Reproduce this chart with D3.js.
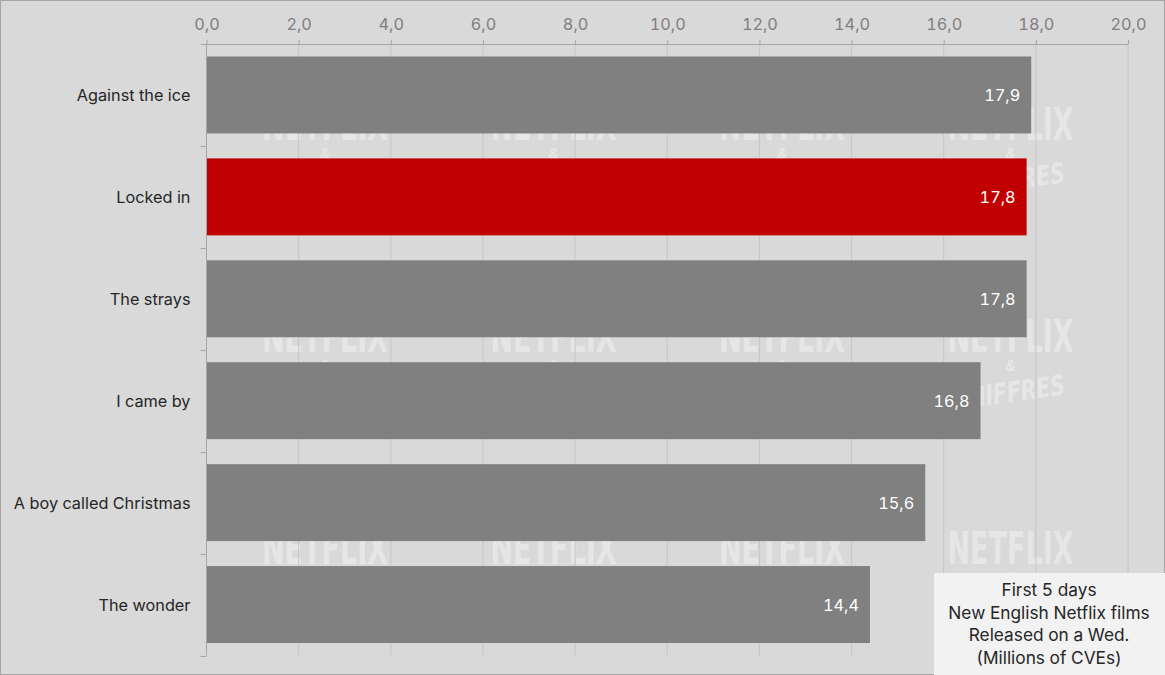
<!DOCTYPE html>
<html>
<head>
<meta charset="utf-8">
<script src="https://cdn.jsdelivr.net/npm/d3@7"></script>
<style>
  html, body { margin: 0; padding: 0; background: #d9d9d9; }
  svg { display: block; font-family: Inter, "Open Sans", Roboto, sans-serif; font-variant-numeric: tabular-nums; }
</style>
</head>
<body>
<script>
const categories = ["Against the ice", "Locked in", "The strays", "I came by", "A boy called Christmas", "The wonder"];
const values = [17.9, 17.8, 17.8, 16.8, 15.6, 14.4];
const highlight = ["Locked in"];
const xTicks = [0, 2, 4, 6, 8, 10, 12, 14, 16, 18, 20];
const legendLines = ["First 5 days", "New English Netflix films", "Released on a Wed.", "(Millions of CVEs)"];
const watermarkCols = [0, 1, 2, 3];
const watermarkRows = [0, 1, 2];

const W = 1165, H = 675;
const margin = { top: 44, left: 206.5, right: 37, bottom: 19.5 };

const svg = d3.select("body").append("svg").attr("width", W).attr("height", H);
svg.append("rect").attr("x", 0.5).attr("y", 0.5).attr("width", W - 1).attr("height", H - 1)
  .attr("fill", "#d9d9d9").attr("stroke", "#a5a5a5");

const x = d3.scaleLinear().domain([0, 20]).range([margin.left, W - margin.right]);
const y = d3.scaleBand().domain(categories).range([margin.top, H - margin.bottom])
  .paddingInner(0.245).paddingOuter(0.1225);

// watermark
const wm = svg.append("g").attr("fill", "#e6e6e6");
watermarkRows.forEach(r => {
  watermarkCols.forEach(c => {
    const gx = 325 + c * 228.5, gy = 140 + r * 212;
    wm.append("text").attr("x", gx).attr("y", gy).attr("text-anchor", "middle")
      .attr("font-family", "'Liberation Sans Narrow', 'DejaVu Sans Condensed', 'Liberation Sans', sans-serif")
      .attr("font-weight", "bold").attr("font-size", 45)
      .attr("textLength", 126).attr("lengthAdjust", "spacingAndGlyphs").text("NETFLIX");
    wm.append("text").attr("x", gx).attr("y", gy + 19).attr("text-anchor", "middle")
      .attr("font-style", "italic").attr("font-weight", "bold").attr("font-size", 15).text("&");
    wm.append("text").attr("transform", `translate(${gx},${gy + 50}) rotate(-8)`).attr("text-anchor", "middle")
      .attr("font-family", "'Liberation Sans Narrow', 'DejaVu Sans Condensed', 'Liberation Sans', sans-serif")
      .attr("font-style", "italic").attr("font-weight", "bold").attr("font-size", 28)
      .attr("textLength", 112).attr("lengthAdjust", "spacingAndGlyphs").text("CHIFFRES");
  });
});

// gridlines
svg.append("g").selectAll("line").data(xTicks.slice(1)).join("line")
  .attr("x1", d => x(d)).attr("x2", d => x(d))
  .attr("y1", margin.top).attr("y2", H - margin.bottom)
  .attr("stroke", "#c6c6c6").attr("stroke-width", 1);

// top axis
const xAxis = svg.append("g").attr("transform", `translate(0,${margin.top})`)
  .call(d3.axisTop(x).tickValues(xTicks).tickSize(4).tickPadding(10)
    .tickFormat(d => d3.format(".1f")(d).replace(".", ",")));
xAxis.select(".domain").attr("stroke", "#a6a6a6").attr("d", `M${margin.left - 6},0.5H${x(20)}`);
xAxis.selectAll(".tick line").attr("stroke", "#a6a6a6");
xAxis.selectAll(".tick text").attr("fill", "#7f7f7f").attr("font-size", 16.3)
  .attr("font-family", "Inter, sans-serif");

// bars
svg.append("g").selectAll("rect").data(categories).join("rect")
  .attr("x", x(0)).attr("y", d => y(d))
  .attr("width", (d, i) => x(values[i]) - x(0))
  .attr("height", y.bandwidth())
  .attr("fill", d => highlight.includes(d) ? "#c00000" : "#808080");

// left axis
const step = y.step();
const boundaries = categories.map((d, i) => margin.top + (i + 1) * step);
const yAxisG = svg.append("g");
yAxisG.append("line").attr("x1", x(0)).attr("x2", x(0)).attr("y1", margin.top).attr("y2", H - margin.bottom)
  .attr("stroke", "#a6a6a6");
yAxisG.selectAll("line.tk").data(boundaries).join("line").attr("class", "tk")
  .attr("x1", x(0) - 6).attr("x2", x(0)).attr("y1", d => Math.round(d) + 0.5).attr("y2", d => Math.round(d) + 0.5)
  .attr("stroke", "#a6a6a6");
yAxisG.selectAll("text").data(categories).join("text")
  .attr("x", x(0) - 16).attr("y", d => y(d) + y.bandwidth() / 2 + 6)
  .attr("text-anchor", "end").attr("fill", "#262626").attr("font-size", 16.3)
  .text(d => d);

// value labels
svg.append("g").selectAll("text").data(categories).join("text")
  .attr("x", (d, i) => x(values[i]) - 11)
  .attr("y", d => y(d) + y.bandwidth() / 2 + 6)
  .attr("text-anchor", "end").attr("fill", "#ffffff").attr("font-size", 16.3)
  .text((d, i) => d3.format(".1f")(values[i]).replace(".", ","));

// legend box
const lg = svg.append("g");
lg.append("rect").attr("x", 934).attr("y", 573).attr("width", W - 934).attr("height", H - 573)
  .attr("fill", "#f2f2f2");
lg.selectAll("text").data(legendLines).join("text")
  .attr("x", 1049).attr("y", (d, i) => 596 + i * 22.5)
  .attr("text-anchor", "middle").attr("fill", "#262626").attr("font-size", 17.3)
  .text(d => d);
</script>
</body>
</html>
